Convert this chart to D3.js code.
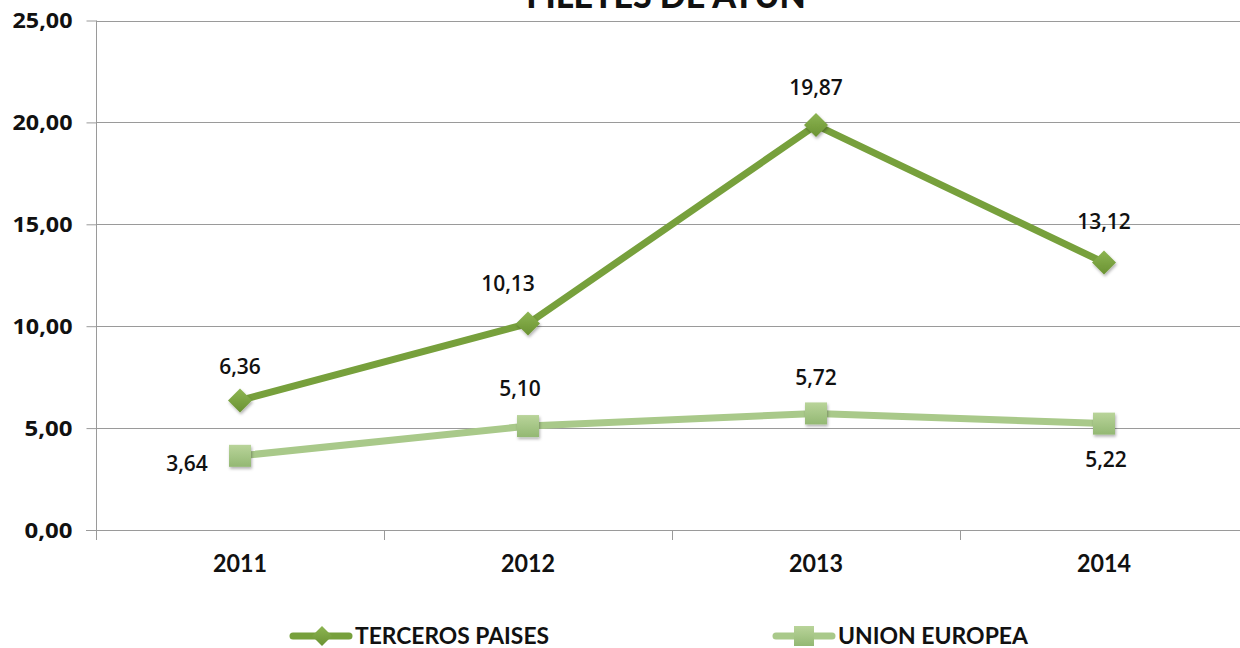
<!DOCTYPE html>
<html><head><meta charset="utf-8">
<script src="https://cdn.jsdelivr.net/npm/d3@7"></script>
<style>body{margin:0;background:#fff}svg{display:block}</style>
</head><body>
<svg id="c" width="1240" height="648"></svg>
<script>
const title = "FILETES DE ATÚN";
const years = ["2011","2012","2013","2014"];
const terceros = [6.36, 10.13, 19.87, 13.12];
const union = [3.64, 5.10, 5.72, 5.22];
const seriesNames = ["TERCEROS PAISES","UNION EUROPEA"];
const yTicks = [0,5,10,15,20,25];

const svg = d3.select("#c");
const fmt = v => d3.format(".2f")(v).replace(".", ",");
const x = d3.scaleBand().domain(years).range([96, 1248]);
const y = d3.scaleLinear().domain([0,25]).range([530, 20.5]);
const cx = d => x(d) + x.bandwidth()/2;

const defs = svg.append("defs");
const f = defs.append("filter").attr("id","sh").attr("x","-50%").attr("y","-50%").attr("width","200%").attr("height","200%");
f.append("feDropShadow").attr("dx",1).attr("dy",2).attr("stdDeviation",1.5).attr("flood-color","#000").attr("flood-opacity",0.3);
const g1 = defs.append("linearGradient").attr("id","gD").attr("x1",0).attr("y1",0).attr("x2",0).attr("y2",1);
g1.append("stop").attr("offset","0").attr("stop-color","#8db552");
g1.append("stop").attr("offset","1").attr("stop-color","#6a9232");
const g2 = defs.append("linearGradient").attr("id","gL").attr("x1",0).attr("y1",0).attr("x2",0).attr("y2",1);
g2.append("stop").attr("offset","0").attr("stop-color","#b9d49a");
g2.append("stop").attr("offset","1").attr("stop-color","#93b873");

// title (cropped at top as in the reference)
svg.append("text").attr("x",666).attr("y",8).attr("text-anchor","middle")
  .attr("font-family","Lato, sans-serif").attr("font-weight","900").attr("font-size",34)
  .attr("fill","#111").text(title);

// grid
svg.append("g").selectAll("line").data(yTicks.slice(1)).join("line")
  .attr("x1",96).attr("x2",1240).attr("y1",d=>Math.round(y(d))+0.5).attr("y2",d=>Math.round(y(d))+0.5)
  .attr("stroke","#9a9a9a").attr("stroke-width",1);

// y axis
const ya = svg.append("g").attr("transform","translate(96.5,0)")
  .call(d3.axisLeft(y).tickValues(yTicks).tickSize(10).tickFormat(fmt));
ya.select(".domain").attr("stroke","#9a9a9a").attr("d","M0,20.5V530");
ya.selectAll(".tick line").attr("stroke","#9a9a9a");
ya.selectAll(".tick text").attr("x",-24).attr("dy","0.35em")
  .attr("font-family","'Open Sans', sans-serif").attr("font-weight","bold").attr("font-size",21).attr("fill","#111")
  .attr("textLength",d=>d>=10?60:48).attr("lengthAdjust","spacingAndGlyphs");

// x axis
const xa = svg.append("g").attr("transform","translate(0,530.5)")
  .call(d3.axisBottom(x).tickSize(0));
xa.select(".domain").attr("stroke","#9a9a9a").attr("d","M86,0H1240");
xa.selectAll(".tick text").attr("y",33).attr("dy","0.35em")
  .attr("font-family","Lato, sans-serif").attr("font-weight","bold").attr("font-size",24).attr("fill","#111")
  .attr("textLength",54).attr("lengthAdjust","spacingAndGlyphs");
svg.append("g").selectAll("line").data(years).join("line")
  .attr("x1",d=>Math.round(x(d))+0.5).attr("x2",d=>Math.round(x(d))+0.5)
  .attr("y1",530).attr("y2",540).attr("stroke","#9a9a9a");

const line = d3.line().x((d,i)=>cx(years[i])).y(d=>y(d));

// union europea
svg.append("path").datum(union).attr("d",line).attr("fill","none")
  .attr("stroke","#a9c98a").attr("stroke-width",7).attr("stroke-linejoin","round");
svg.append("g").selectAll("rect").data(union).join("rect")
  .attr("x",(d,i)=>cx(years[i])-11).attr("y",d=>y(d)-11).attr("width",22).attr("height",22)
  .attr("fill","url(#gL)").attr("filter","url(#sh)");

// terceros
svg.append("path").datum(terceros).attr("d",line).attr("fill","none")
  .attr("stroke","#77a03c").attr("stroke-width",7).attr("stroke-linejoin","round");
const diamond = "M0,-12L12,0L0,12L-12,0Z";
svg.append("g").selectAll("path").data(terceros).join("path")
  .attr("d",diamond).attr("transform",(d,i)=>`translate(${cx(years[i])},${y(d)})`)
  .attr("fill","url(#gD)").attr("filter","url(#sh)");

// labels
const lblFont = sel => sel.attr("font-family","'Open Sans', sans-serif").attr("font-weight","600").attr("font-size",21).attr("fill","#111");
const tpOff = [[0,-34],[-20,-40],[0,-37],[0,-41]];
svg.append("g").selectAll("text").data(terceros).join("text")
  .attr("x",(d,i)=>cx(years[i])+tpOff[i][0]).attr("y",(d,i)=>y(d)+tpOff[i][1])
  .attr("text-anchor","middle").attr("dy","0.35em").call(lblFont).text(fmt);
const ueOff = [[-53,8],[-8,-37],[0,-36],[2,36]];
svg.append("g").selectAll("text").data(union).join("text")
  .attr("x",(d,i)=>cx(years[i])+ueOff[i][0]).attr("y",(d,i)=>y(d)+ueOff[i][1])
  .attr("text-anchor","middle").attr("dy","0.35em").call(lblFont).text(fmt);

// legend
const leg = [{name:seriesNames[0], c:"#77a03c", x0:293, t:"d"},{name:seriesNames[1], c:"#a9c98a", x0:776, t:"s"}];
const lg = svg.append("g").selectAll("g").data(leg).join("g").attr("transform",d=>`translate(${d.x0},636)`);
lg.append("line").attr("x1",0).attr("x2",56).attr("stroke",d=>d.c).attr("stroke-width",7).attr("stroke-linecap","round");
lg.filter(d=>d.t==="d").append("path").attr("d","M0,-10L10,0L0,10L-10,0Z").attr("transform","translate(29,0)").attr("fill","url(#gD)");
lg.filter(d=>d.t==="s").append("rect").attr("x",18).attr("y",-10).attr("width",20).attr("height",20).attr("fill","url(#gL)");
lg.append("text").attr("x",62).attr("dy","0.36em")
  .attr("font-family","Lato, sans-serif").attr("font-weight","bold").attr("font-size",23).attr("fill","#111")
  .attr("textLength",(d,i)=>i?190:194).attr("lengthAdjust","spacingAndGlyphs").text(d=>d.name);
</script>
</body></html>
